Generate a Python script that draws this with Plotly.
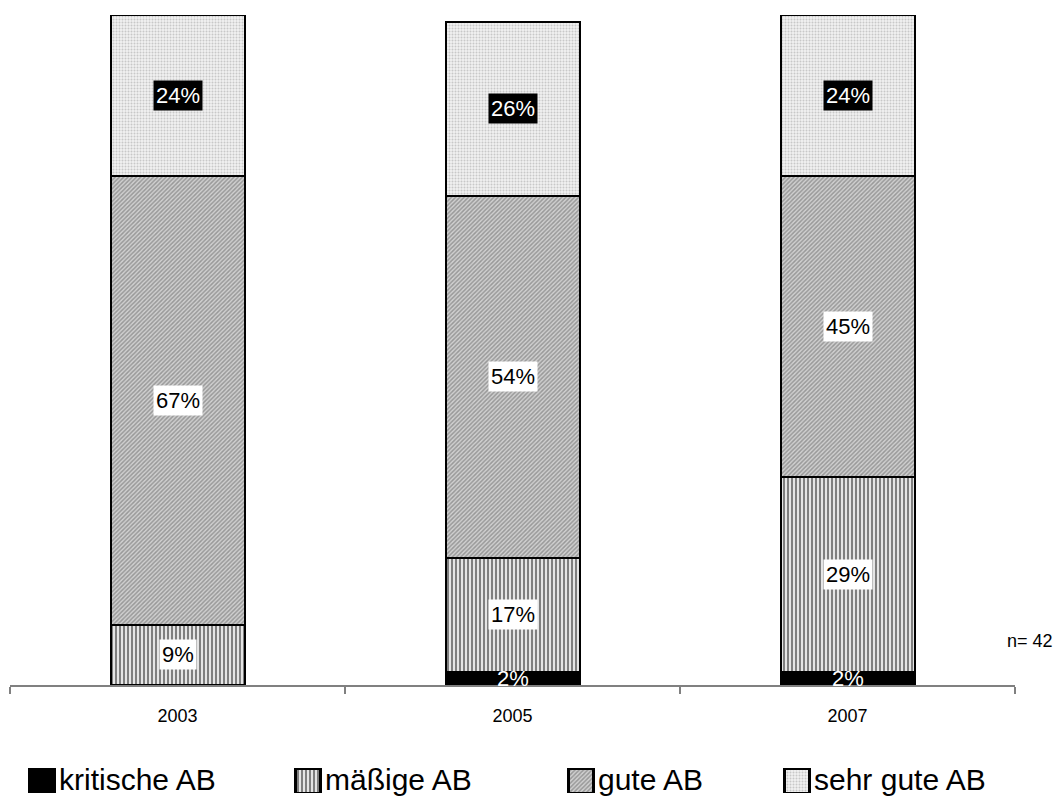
import plotly.graph_objects as go

years = ["2003", "2005", "2007"]
kritisch = [0, 2, 2]
maessig = [9, 17, 29]
gut = [67, 54, 45]
sehr_gut = [24, 26, 24]

names = ["kritische AB", "mäßige AB", "gute AB", "sehr gute AB"]
values = [kritisch, maessig, gut, sehr_gut]
patterns = [
    None,
    dict(shape="|", size=4, solidity=0.6, fgcolor="black", bgcolor="white"),
    dict(shape="/", size=3, solidity=0.5, fgcolor="#606060", bgcolor="#d0d0d0"),
    dict(shape=".", size=3, solidity=0.35, fgcolor="#a0a0a0", bgcolor="#f0f0f0"),
]

FONT = "Liberation Sans, Arial, sans-serif"
W, H = 1061, 797
TOP = 15
PLOT_H = H - TOP


def px_y(p):
    # pixel row -> paper fraction (with zero bottom margin)
    return (H - p) / PLOT_H


def make_marker(pat, lw):
    m = dict(color="black" if pat is None else "white", line=dict(color="black", width=lw))
    if pat is not None:
        m["pattern"] = pat
    return m


fig = go.Figure()
for name, vals, pat in zip(names, values, patterns):
    fig.add_trace(go.Bar(x=years, y=vals, name=name, marker=make_marker(pat, 2),
                         showlegend=False, xaxis="x", yaxis="y"))

# value labels at the middle of each segment (category index on x)
annotations = []
for i in range(len(years)):
    base = 0
    for name, vals in zip(names, values):
        v = vals[i]
        if v > 0:
            mid = base + v / 2
            if name == "kritische AB":
                style = dict(font=dict(family=FONT, size=22, color="white"))
            elif name == "sehr gute AB":
                style = dict(font=dict(family=FONT, size=22, color="white"),
                             bgcolor="black", borderpad=2)
            else:
                style = dict(font=dict(family=FONT, size=22, color="black"),
                             bgcolor="white", borderpad=2)
            annotations.append(dict(x=i, y=mid, xref="x", yref="y", text=f"{v}%",
                                    showarrow=False, **style))
        base += v

annotations.append(dict(xref="paper", yref="paper", x=1055 / W, y=px_y(641),
                        xanchor="right", yanchor="middle", text="n= 42", showarrow=False,
                        font=dict(family=FONT, size=18, color="black")))

# legend row: swatches drawn as small patterned bars on a helper axis
legend_left = [29, 295, 568, 784]
legend_sw = 25
for name, pat, left in zip(names, patterns, legend_left):
    fig.add_trace(go.Bar(x=[left + legend_sw / 2], y=[1], width=[legend_sw],
                         marker=make_marker(pat, 3), showlegend=False,
                         hoverinfo="skip", xaxis="x2", yaxis="y2"))
    annotations.append(dict(xref="x2", yref="paper", x=left + legend_sw + 3, y=px_y(779),
                            xanchor="left", yanchor="middle", text=name, showarrow=False,
                            font=dict(family=FONT, size=30, color="black")))

fig.update_layout(
    barmode="stack",
    bargap=0.6,
    width=W, height=H,
    margin=dict(l=0, r=0, t=TOP, b=0),
    plot_bgcolor="white", paper_bgcolor="white",
    font=dict(family=FONT, color="black"),
    annotations=annotations,
    showlegend=False,
    xaxis=dict(domain=[10 / W, 1015 / W], anchor="y", type="category", range=[-0.5, 2.5],
               showline=True, linecolor="#808080", linewidth=2, ticks="outside",
               tickson="boundaries", ticklen=7, tickcolor="#808080", tickwidth=2,
               tickfont=dict(family=FONT, size=18), ticklabelstandoff=13,
               showgrid=False, automargin=False),
    yaxis=dict(domain=[px_y(685), 1], range=[0, 100], visible=False, showgrid=False),
    xaxis2=dict(domain=[0, 1], anchor="y2", range=[0, W], visible=False, showgrid=False),
    yaxis2=dict(domain=[px_y(793), px_y(768)], anchor="x2", range=[0, 1], visible=False,
                showgrid=False),
)

fig.write_html("out.html")
